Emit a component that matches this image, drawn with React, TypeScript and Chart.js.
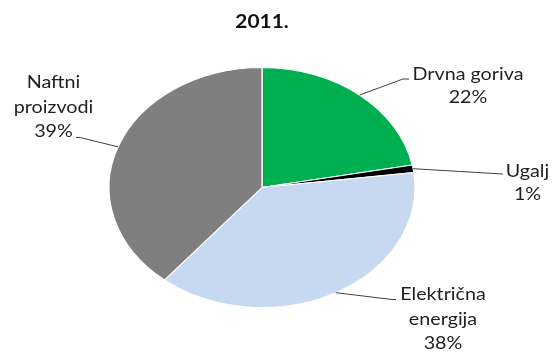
import React, { useEffect, useRef } from "react";
import { Chart, registerables } from "chart.js";

Chart.register(...registerables);

// ---- data ----
const chartTitle = "2011.";
const categories = ["Drvna goriva", "Ugalj", "Električna energija", "Naftni proizvodi"];
const labelLines = [["Drvna goriva"], ["Ugalj"], ["Električna", "energija"], ["Naftni", "proizvodi"]];
const values = [22, 1, 38, 39];
const sliceColors = ["#00B050", "#000000", "#C6D9F1", "#7F7F7F"];

// ---- layout (positions of label blocks and leader elbows) ----
const labelLayout = [
  { x: 468, y: 74, lh: 22.5, elbow: [403, 79], end: [409, 79] },
  { x: 527.5, y: 171, lh: 22.5, elbow: null, end: [503, 174] },
  { x: 443, y: 294, lh: 24.6, elbow: [392, 299.5], end: [396, 299.5] },
  { x: 53.5, y: 82, lh: 24.5, elbow: [80, 137.5], end: [76, 137.5] },
];
const STRETCH_X = 153 / 120; // pie is drawn as an ellipse
const TEXT_SX = 1.16;
const FONT = "Lato, 'Noto Sans', sans-serif";

function drawText(ctx: CanvasRenderingContext2D, text: string, x: number, y: number) {
  ctx.save();
  ctx.translate(x, y);
  ctx.scale(TEXT_SX, 1);
  ctx.fillText(text, 0, 0);
  ctx.restore();
}

const ellipsePlugin = {
  id: "ellipsePie",
  beforeDatasetsDraw(chart: any) {
    const meta = chart.getDatasetMeta(0);
    const arc = meta.data[0];
    if (!arc) return;
    const ctx = chart.ctx;
    ctx.save();
    ctx.translate(arc.x, arc.y);
    ctx.scale(STRETCH_X, 1);
    ctx.translate(-arc.x, -arc.y);
  },
  afterDatasetsDraw(chart: any) {
    chart.ctx.restore();
  },
  afterDraw(chart: any) {
    const ctx: CanvasRenderingContext2D = chart.ctx;
    const meta = chart.getDatasetMeta(0);
    const total = values.reduce((a, b) => a + b, 0);
    ctx.save();
    // title
    ctx.fillStyle = "#111111";
    ctx.textAlign = "center";
    ctx.textBaseline = "alphabetic";
    ctx.font = `bold 18px ${FONT}`;
    const cx = (chart.chartArea.left + chart.chartArea.right) / 2;
    drawText(ctx, chartTitle, cx, 28);

    // labels
    ctx.font = `17px ${FONT}`;
    meta.data.forEach((arc: any, i: number) => {
      const p = arc.getProps(["x", "y", "startAngle", "endAngle", "outerRadius"], true);
      const mid = (p.startAngle + p.endAngle) / 2;
      const ax = p.x + Math.cos(mid) * p.outerRadius * STRETCH_X;
      const ay = p.y + Math.sin(mid) * p.outerRadius;
      const L = labelLayout[i];
      ctx.strokeStyle = "#404040";
      ctx.lineWidth = 1;
      ctx.beginPath();
      ctx.moveTo(ax, ay);
      if (L.elbow) ctx.lineTo(L.elbow[0], L.elbow[1]);
      ctx.lineTo(L.end[0], L.end[1]);
      ctx.stroke();

      const lines = [...labelLines[i], Math.round((values[i] / total) * 100) + "%"];
      ctx.fillStyle = "#1f1f1f";
      lines.forEach((t, k) => {
        drawText(ctx, t, L.x, L.y + k * L.lh + 6);
      });
    });
    ctx.restore();
  },
};

export default function App() {
  const ref = useRef<HTMLCanvasElement | null>(null);
  useEffect(() => {
    document.body.style.margin = "0";
    const canvas = ref.current!;
    const chart = new Chart(canvas, {
      type: "pie",
      data: {
        labels: categories,
        datasets: [
          {
            data: values,
            backgroundColor: sliceColors,
            borderColor: "#ffffff",
            borderWidth: 1,
            hoverBorderWidth: 1,
            radius: 120,
          } as any,
        ],
      },
      options: {
        responsive: false,
        devicePixelRatio: 1,
        animation: false,
        layout: { padding: { top: 67.5, bottom: 44.5, left: 0, right: 31 } },
        plugins: {
          legend: { display: false },
          title: { display: false },
          tooltip: { enabled: false },
        },
      },
      plugins: [ellipsePlugin],
    });
    return () => chart.destroy();
  }, []);
  return (
    <div style={{ width: 555, height: 352, background: "#ffffff" }}>
      <canvas ref={ref} width={555} height={352} style={{ width: 555, height: 352 }} />
    </div>
  );
}
